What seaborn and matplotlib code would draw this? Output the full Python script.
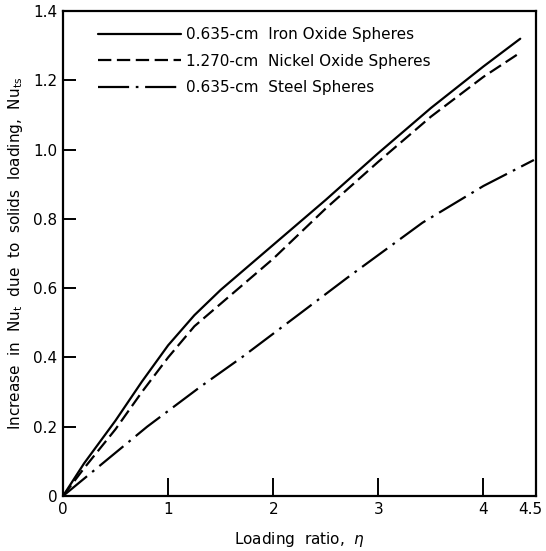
import matplotlib
matplotlib.use('Agg')
import matplotlib.pyplot as plt
import matplotlib.transforms as mtransforms
import seaborn as sns
import pandas as pd

# values
eta_oxide = [0, 0.2, 0.5, 0.75, 1.0, 1.25, 1.5, 2.0, 2.5, 3.0, 3.5, 4.0, 4.35]
iron_oxide = [0, 0.094, 0.218, 0.33, 0.435, 0.522, 0.595, 0.725, 0.855, 0.99, 1.12, 1.24, 1.32]
nickel_oxide = [0, 0.08, 0.193, 0.30, 0.40, 0.49, 0.555, 0.685, 0.83, 0.965, 1.095, 1.21, 1.28]
eta_steel = [0, 0.36, 0.8, 1.31, 1.7, 2.26, 2.7, 3.42, 4.0, 4.48]
steel = [0, 0.09, 0.2, 0.316, 0.40, 0.528, 0.629, 0.789, 0.895, 0.97]

labels = ['0.635-cm  Iron Oxide Spheres',
          '1.270-cm  Nickel Oxide Spheres',
          '0.635-cm  Steel Spheres']
x_ticks = [0, 1, 2, 3, 4, 4.5]
x_ticklabels = ['0', '1', '2', '3', '4', '4.5']
y_ticks = [0, 0.2, 0.4, 0.6, 0.8, 1.0, 1.2, 1.4]
y_ticklabels = ['0', '0.2', '0.4', '0.6', '0.8', '1.0', '1.2', '1.4']

df = pd.concat([
    pd.DataFrame({'eta': eta_oxide, 'nu': iron_oxide, 'series': labels[0]}),
    pd.DataFrame({'eta': eta_oxide, 'nu': nickel_oxide, 'series': labels[1]}),
    pd.DataFrame({'eta': eta_steel, 'nu': steel, 'series': labels[2]}),
])

sns.set_style('ticks')
plt.rcParams['font.family'] = ['DejaVu Sans']
plt.rcParams['text.color'] = 'black'
plt.rcParams['axes.labelcolor'] = 'black'

fig = plt.figure(figsize=(5.46, 5.51), dpi=100)
ax = fig.add_axes([0.1154, 0.0998, 0.8663, 0.8802])

dash_styles = {labels[0]: '', labels[1]: (6, 2.5), labels[2]: (14, 3, 1.2, 3)}
sns.lineplot(data=df, x='eta', y='nu', hue='series', style='series',
             dashes=dash_styles, palette=['black'] * 3, linewidth=1.6,
             sort=False, estimator=None, ax=ax)

ax.set_xlim(0, 4.5)
ax.set_ylim(0, 1.4)
ax.set_xticks(x_ticks)
ax.set_xticklabels(x_ticklabels)
ax.set_yticks(y_ticks)
ax.set_yticklabels(y_ticklabels)
ax.tick_params(direction='in', length=9, width=1.4, labelsize=11, pad=4, colors='black')
ax.tick_params(axis='x', length=13)
for sp in ax.spines.values():
    sp.set_linewidth(1.6)
    sp.set_color('black')

# last x label sits a little left of the right spine, as in the original
last = ax.get_xticklabels()[-1]
last.set_transform(last.get_transform() + mtransforms.ScaledTranslation(-6 / 100, 0, fig.dpi_scale_trans))

ax.set_xlabel(r'Loading  ratio,  $\eta$', fontsize=11, labelpad=10)
ax.set_ylabel(r'Increase  in  Nu$_{\mathrm{t}}$  due  to  solids  loading,  Nu$_{\mathrm{ts}}$',
              fontsize=11, labelpad=6)

leg = ax.legend(loc='upper left', frameon=False, fontsize=11, handlelength=5.4,
                handletextpad=0.35, labelspacing=0.75, bbox_to_anchor=(0.045, 0.995))
for t in leg.get_texts():
    t.set_color('black')

fig.savefig('out.png', dpi=100)
